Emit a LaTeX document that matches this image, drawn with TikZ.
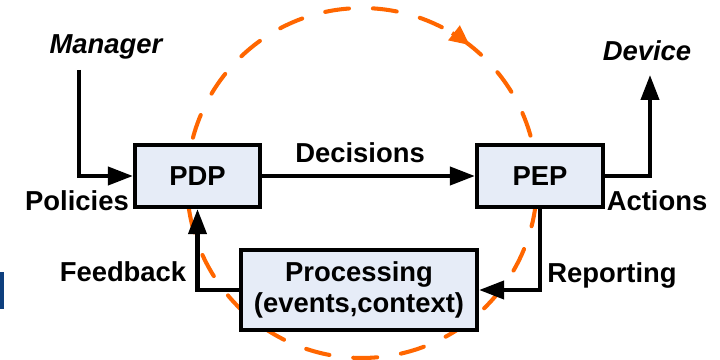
\documentclass[tikz,border=0pt]{standalone}
\usepackage{fontspec}
\setmainfont{Liberation Sans}
\usetikzlibrary{arrows.meta}
\definecolor{boxfill}{HTML}{E6ECF7}
\definecolor{loopcol}{HTML}{FF6600}
\definecolor{barblue}{HTML}{0E3F7E}
\begin{document}
\begin{tikzpicture}[x=0.02cm,y=0.02cm,
    font=\fontsize{15.6}{18}\selectfont\bfseries,
    block/.style={draw,line width=2.4pt,fill=boxfill,inner sep=0pt},
    flow/.style={line width=2.3pt,-{Triangle[length=0.5cm,width=0.36cm]}},
    loop/.style={loopcol,line width=2.3pt,dash pattern=on 0.48cm off 0.48cm,line cap=round}]
  \useasboundingbox (0,0) rectangle (720,359);
  \fill [barblue] (0,50) rectangle (4,87);
  % control loop behind the boxes
  \coordinate (c) at (362,176);
  \draw [loop] (c) circle [radius=3.5cm];
  \draw [loop,solid,line cap=butt,-{Triangle[length=0.4cm,width=0.36cm]}] (c) ++(59:3.5cm) arc [start angle=59, end angle=52, radius=3.5cm];
  % blocks
  \node [block,minimum width=2.5cm,minimum height=1.24cm] (pdp) at (197.5,183) {PDP};
  \node [block,minimum width=2.52cm,minimum height=1.24cm] (pep) at (540,183) {PEP};
  \node [block,minimum width=4.72cm,minimum height=1.6cm,align=center] (proc) at (359,69) {Processing\\(events,context)};
  % labels
  \node (mgr) at (106,312) {\itshape Manager};
  \node (dev) at (647,308) {\itshape Device};
  \node (pol) at (77,158) {Policies};
  \node (act) at (657,158) {Actions};
  \node (dec) at (360,206) {Decisions};
  \node (fb) at (123,87) {Feedback};
  \node (rep) at (612,84) {Reporting};
  \coordinate (mtop) at (79,289);
  \coordinate (dtip) at (650,284);
  % connectors
  \draw [flow] (mtop) |- (pdp.west);
  \draw [flow] (pdp) -- (pep);
  \draw [flow] (pep.east) -| (dtip);
  \draw [flow] (pep.south) |- (proc.east);
  \draw [flow] (proc.west) -| (pdp.south);
\end{tikzpicture}
\end{document}
